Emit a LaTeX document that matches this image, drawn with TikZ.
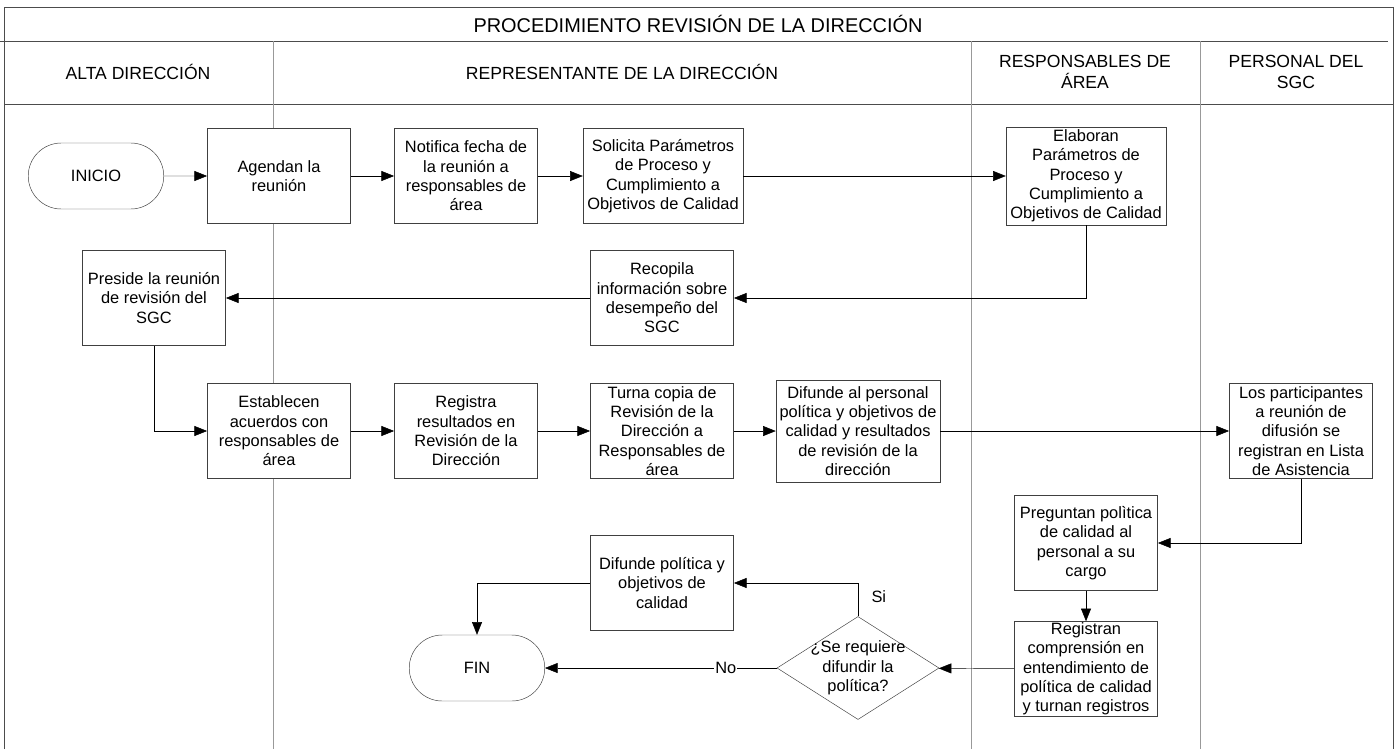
\documentclass[tikz,border=0pt]{standalone}
\usepackage{fontspec}
\setmainfont{Liberation Sans}
\usetikzlibrary{arrows.meta,shapes.geometric,shapes.misc}

\begin{document}
\begin{tikzpicture}[x=0.03cm, y=-0.03cm]
\tikzset{caja/.style={draw=black!75, fill=white, rectangle, align=center, inner sep=1pt,
    minimum width=4.3cm, minimum height=2.85cm, font=\fontsize{14}{16.5}\selectfont},
  terminal/.style={draw=black!75, fill=white, rounded rectangle, minimum width=4.3cm,
    minimum height=1.98cm, font=\fontsize{14}{16.5}\selectfont},
  decision/.style={draw=black!75, fill=white, diamond, minimum width=4.86cm,
    minimum height=3.09cm, inner sep=0pt},
  flecha/.style={draw=black, -{Triangle[length=0.38cm, width=0.3cm]}},
  marco/.style={draw=black!70, line width=0.6pt},
  carril/.style={draw=black!40, line width=0.6pt},
  cabecera/.style={font=\fontsize{15}{17.5}\selectfont, align=center}}
\useasboundingbox (0,0) rectangle (1397,749);
\draw[marco] (4,749) -- (4,7) -- (1393,7) -- (1393,749);
\draw[marco] (0,41) -- (1388,41);
\draw[marco] (4,104) -- (1393,104);
\draw[carril] (273,41) -- (273,749);
\draw[carril] (971,41) -- (971,749);
\draw[carril] (1200,41) -- (1200,749);
\node[font=\fontsize{17}{20}\selectfont] (titulo) at (698,24) {PROCEDIMIENTO REVISIÓN DE LA DIRECCIÓN};
\node[cabecera] (alta) at (138,72) {ALTA DIRECCIÓN};
\node[cabecera] (repre) at (622,72) {REPRESENTANTE DE LA DIRECCIÓN};
\node[cabecera] (respon) at (1085,72) {RESPONSABLES DE\\ÁREA};
\node[cabecera] (perso) at (1296,72) {PERSONAL DEL\\SGC};
\node[terminal] (inicio) at (96,176) {INICIO};
\node[caja] (agendan) at (279,176) {Agendan la\\reunión};
\node[caja] (notifica) at (466,176) {Notifica fecha de\\la reunión a\\responsables de\\área};
\node[caja, minimum width=4.8cm] (solicita) at (663,176) {Solicita Parámetros\\de Proceso y\\Cumplimiento a\\Objetivos de Calidad};
\node[caja, minimum width=4.8cm, minimum height=2.94cm] (elaboran) at (1086,176) {Elaboran\\Parámetros de\\Proceso y\\Cumplimiento a\\Objetivos de Calidad};
\node[caja] (recopila) at (662,298) {Recopila\\información sobre\\desempeño del\\SGC};
\node[caja] (preside) at (154,298) {Preside la reunión\\de revisión del\\SGC};
\node[caja] (establecen) at (279,431) {Establecen\\acuerdos con\\responsables de\\área};
\node[caja] (registra) at (466,431) {Registra\\resultados en\\Revisión de la\\Dirección};
\node[caja] (turna) at (662,431) {Turna copia de\\Revisión de la\\Dirección a\\Responsables de\\área};
\node[caja, minimum width=4.92cm, minimum height=3.06cm] (difunde) at (858,431) {Difunde al personal\\política y objetivos de\\calidad y resultados\\de revisión de la\\dirección};
\node[caja] (participantes) at (1301,431) {Los participantes\\a reunión de\\difusión se\\registran en Lista\\de Asistencia};
\node[caja] (preguntan) at (1086,543) {Preguntan polìtica\\de calidad al\\personal a su\\cargo};
\node[caja] (registran) at (1086,669) {Registran\\comprensión en\\entendimiento de\\política de calidad\\y turnan registros};
\node[decision, label={[align=center, font=\fontsize{14}{16.5}\selectfont]center:¿Se requiere\\difundir la\\política?}] (pregunta) at (858,668) {};
\node[caja] (difpol) at (662,583) {Difunde política y\\objetivos de\\calidad};
\node[terminal] (fin) at (477,668) {FIN};
\draw[flecha] (inicio) -- (agendan);
\draw[flecha] (agendan) -- (notifica);
\draw[flecha] (notifica) -- (solicita);
\draw[flecha] (solicita) -- (elaboran);
\draw[flecha] (elaboran.south) |- (recopila.east);
\draw[flecha] (recopila) -- (preside);
\draw[flecha] (preside.south) |- (establecen.west);
\draw[flecha] (establecen) -- (registra);
\draw[flecha] (registra) -- (turna);
\draw[flecha] (turna) -- (difunde);
\draw[flecha] (difunde) -- (participantes);
\draw[flecha] (participantes.south) |- (preguntan.east);
\draw[flecha] (preguntan) -- (registran);
\draw[flecha] (registran) -- (pregunta);
\draw[flecha] (pregunta.north) |- node[pos=0.3, right=8pt, font=\fontsize{14}{16.5}\selectfont] {Si} (difpol.east);
\draw[flecha] (difpol.west) -| (fin.north);
\draw[flecha] (pregunta.west) -- node[pos=0.22, fill=white, inner sep=1pt, font=\fontsize{14}{16.5}\selectfont] {No} (fin.east);
\end{tikzpicture}
\end{document}
